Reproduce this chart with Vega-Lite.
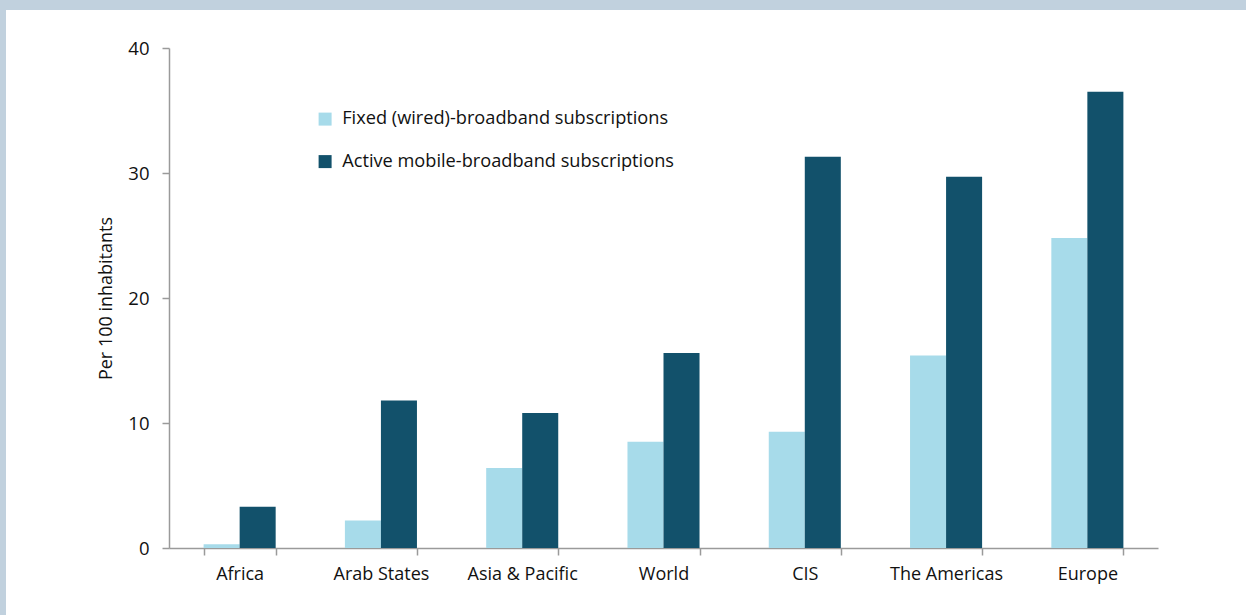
{
  "$schema": "https://vega.github.io/schema/vega-lite/v6.json",
  "width": 1240,
  "height": 605,
  "autosize": {"type": "none"},
  "padding": {"left": 6, "top": 10, "right": 0, "bottom": 0},
  "background": "#c1d1de",
  "data": {
    "values": [
      {"region": "Africa", "series": "Fixed (wired)-broadband subscriptions", "value": 0.3},
      {"region": "Africa", "series": "Active mobile-broadband subscriptions", "value": 3.3},
      {"region": "Arab States", "series": "Fixed (wired)-broadband subscriptions", "value": 2.2},
      {"region": "Arab States", "series": "Active mobile-broadband subscriptions", "value": 11.8},
      {"region": "Asia & Pacific", "series": "Fixed (wired)-broadband subscriptions", "value": 6.4},
      {"region": "Asia & Pacific", "series": "Active mobile-broadband subscriptions", "value": 10.8},
      {"region": "World", "series": "Fixed (wired)-broadband subscriptions", "value": 8.5},
      {"region": "World", "series": "Active mobile-broadband subscriptions", "value": 15.6},
      {"region": "CIS", "series": "Fixed (wired)-broadband subscriptions", "value": 9.3},
      {"region": "CIS", "series": "Active mobile-broadband subscriptions", "value": 31.3},
      {"region": "The Americas", "series": "Fixed (wired)-broadband subscriptions", "value": 15.4},
      {"region": "The Americas", "series": "Active mobile-broadband subscriptions", "value": 29.7},
      {"region": "Europe", "series": "Fixed (wired)-broadband subscriptions", "value": 24.8},
      {"region": "Europe", "series": "Active mobile-broadband subscriptions", "value": 36.5}
    ]
  },
  "mark": {"type": "bar"},
  "encoding": {
    "x": {
      "field": "region",
      "type": "nominal",
      "sort": null,
      "scale": {"range": [163, 1152], "paddingInner": 0.49, "paddingOuter": 0.245},
      "axis": {
        "title": null,
        "offset": -67,
        "labelAngle": 0,
        "tickBand": "extent",
        "labelFont": "Open Sans",
        "labelFontSize": 18,
        "labelColor": "#111111",
        "labelPadding": 10,
        "labelLimit": 0,
        "domainColor": "#9a9a9a",
        "domainWidth": 1.5,
        "tickColor": "#9a9a9a",
        "tickWidth": 1.5,
        "tickSize": 7
      }
    },
    "xOffset": {
      "field": "series",
      "type": "nominal",
      "sort": ["Fixed (wired)-broadband subscriptions", "Active mobile-broadband subscriptions"],
      "scale": {"paddingInner": 0, "paddingOuter": 0}
    },
    "y": {
      "field": "value",
      "type": "quantitative",
      "scale": {"domain": [0, 40], "nice": false, "range": [538, 38]},
      "axis": {
        "title": "Per 100 inhabitants",
        "offset": -163,
        "titleFont": "Open Sans",
        "titleFontSize": 18,
        "titleFontWeight": "normal",
        "titleColor": "#111111",
        "titlePadding": 12,
        "values": [0, 10, 20, 30, 40],
        "grid": false,
        "labelFont": "Open Sans",
        "labelFontSize": 18.5,
        "labelColor": "#111111",
        "labelPadding": 13,
        "domainColor": "#9a9a9a",
        "domainWidth": 1.5,
        "tickColor": "#9a9a9a",
        "tickWidth": 1.5,
        "tickSize": 7
      }
    },
    "color": {
      "field": "series",
      "type": "nominal",
      "sort": ["Fixed (wired)-broadband subscriptions", "Active mobile-broadband subscriptions"],
      "scale": {
        "domain": ["Fixed (wired)-broadband subscriptions", "Active mobile-broadband subscriptions"],
        "range": ["#a7dbea", "#12516b"]
      },
      "legend": {
        "title": null,
        "orient": "none",
        "legendX": 310,
        "legendY": 100,
        "symbolType": "square",
        "symbolSize": 169,
        "symbolStrokeWidth": 0,
        "labelFont": "Open Sans",
        "labelFontSize": 18.2,
        "labelColor": "#111111",
        "labelOffset": 8,
        "labelLimit": 0,
        "rowPadding": 23.5
      }
    }
  },
  "config": {"view": {"stroke": null, "fill": "white"}}
}
